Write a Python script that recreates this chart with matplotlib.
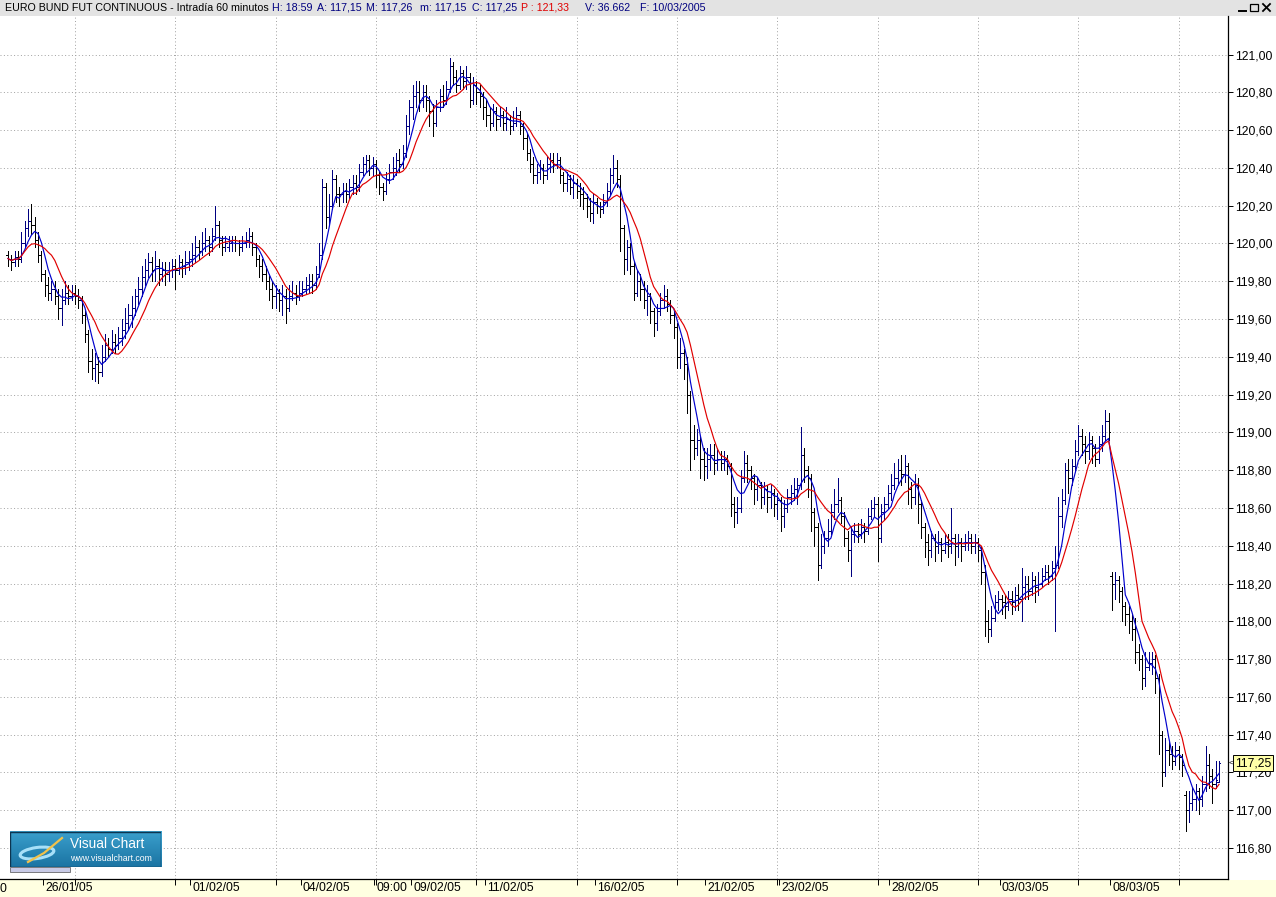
import numpy as np
import pandas as pd
import matplotlib
matplotlib.use("Agg")
import matplotlib.pyplot as plt
from matplotlib.patches import Rectangle, Ellipse
from matplotlib.lines import Line2D

# hourly OHLC, 11 bars per session (25/01/05 .. 10/03/05)
opens = [
    119.94, 119.92, 119.90, 119.93, 119.92, 120.00, 120.08, 120.12, 120.10, 120.02, 119.94,
    119.84, 119.78, 119.74, 119.76, 119.72, 119.66, 119.70, 119.74, 119.72, 119.74, 119.72,
    119.70, 119.62, 119.52, 119.38, 119.34, 119.36, 119.32, 119.40, 119.46, 119.44, 119.48,
    119.46, 119.50, 119.54, 119.58, 119.62, 119.66, 119.72, 119.76, 119.82, 119.86, 119.90,
    119.86, 119.88, 119.84, 119.86, 119.84, 119.86, 119.88, 119.86, 119.90, 119.88, 119.90,
    119.92, 119.94, 119.98, 119.96, 120.00, 120.02, 119.98, 120.04, 120.10, 120.02, 119.98,
    119.98, 120.00, 120.02, 120.00, 119.98, 120.00, 120.02, 120.04, 119.98, 119.92, 119.88,
    119.84, 119.80, 119.76, 119.72, 119.74, 119.70, 119.72, 119.66, 119.72, 119.74, 119.72,
    119.74, 119.76, 119.78, 119.80, 119.78, 119.84, 119.94, 120.30, 120.14, 120.20, 120.34,
    120.26, 120.26, 120.28, 120.26, 120.30, 120.32, 120.30, 120.38, 120.42, 120.44, 120.40,
    120.42, 120.36, 120.30, 120.28, 120.34, 120.38, 120.40, 120.44, 120.42, 120.48, 120.62,
    120.72, 120.78, 120.80, 120.76, 120.80, 120.76, 120.70, 120.64, 120.72, 120.78, 120.76,
    120.82, 120.94, 120.88, 120.84, 120.90, 120.86, 120.88, 120.76, 120.84, 120.80, 120.78,
    120.72, 120.68, 120.64, 120.70, 120.66, 120.68, 120.64, 120.66, 120.62, 120.64, 120.68,
    120.62, 120.56, 120.48, 120.42, 120.36, 120.38, 120.40, 120.36, 120.42, 120.44, 120.42,
    120.44, 120.36, 120.32, 120.34, 120.30, 120.32, 120.28, 120.26, 120.24, 120.20, 120.16,
    120.22, 120.20, 120.18, 120.22, 120.28, 120.36, 120.40, 120.34, 120.08, 119.92, 119.98,
    119.88, 119.74, 119.80, 119.76, 119.70, 119.72, 119.64, 119.58, 119.64, 119.70, 119.72,
    119.68, 119.62, 119.56, 119.40, 119.42, 119.36, 119.20, 118.96, 118.92, 118.96, 118.86,
    118.82, 118.86, 118.88, 118.84, 118.86, 118.84, 118.86, 118.82, 118.62, 118.58, 118.60,
    118.76, 118.84, 118.80, 118.76, 118.70, 118.72, 118.66, 118.70, 118.66, 118.68, 118.62,
    118.64, 118.56, 118.60, 118.66, 118.68, 118.70, 118.72, 118.88, 118.80, 118.76, 118.58,
    118.50, 118.30, 118.40, 118.44, 118.48, 118.58, 118.62, 118.64, 118.56, 118.44, 118.38,
    118.46, 118.48, 118.46, 118.50, 118.48, 118.56, 118.60, 118.62, 118.44, 118.58, 118.62,
    118.68, 118.72, 118.76, 118.80, 118.78, 118.82, 118.70, 118.66, 118.72, 118.62, 118.50,
    118.42, 118.38, 118.44, 118.40, 118.42, 118.38, 118.42, 118.40, 118.44, 118.40, 118.42,
    118.40, 118.42, 118.44, 118.40, 118.42, 118.38, 118.26, 118.00, 117.96, 118.02, 118.10,
    118.12, 118.10, 118.08, 118.12, 118.10, 118.14, 118.12, 118.18, 118.20, 118.16, 118.22,
    118.18, 118.20, 118.24, 118.26, 118.24, 118.28, 118.30, 118.56, 118.64, 118.80, 118.76,
    118.82, 118.90, 118.98, 118.94, 118.90, 118.96, 118.92, 118.86, 118.94, 118.98, 119.06,
    118.24, 118.20, 118.22, 118.16, 118.08, 118.04, 118.00, 117.96, 117.84, 117.80, 117.70,
    117.76, 117.78, 117.80, 117.70, 117.40, 117.20, 117.32, 117.30, 117.26, 117.32, 117.28,
    117.08, 117.00, 117.04, 117.06, 117.10, 117.06, 117.14, 117.24, 117.18, 117.14, 117.15,
]
highs = [
    119.96, 119.94, 119.96, 119.96, 120.06, 120.12, 120.18, 120.21, 120.14, 120.06, 119.96,
    119.86, 119.82, 119.80, 119.80, 119.76, 119.76, 119.80, 119.78, 119.78, 119.78, 119.76,
    119.72, 119.64, 119.54, 119.44, 119.42, 119.40, 119.46, 119.52, 119.50, 119.54, 119.52,
    119.56, 119.60, 119.66, 119.68, 119.72, 119.76, 119.82, 119.88, 119.92, 119.95, 119.93,
    119.96, 119.92, 119.90, 119.90, 119.90, 119.92, 119.92, 119.94, 119.92, 119.96, 119.96,
    120.00, 120.04, 120.02, 120.06, 120.08, 120.04, 120.08, 120.20, 120.12, 120.04, 120.04,
    120.04, 120.04, 120.04, 120.02, 120.04, 120.06, 120.08, 120.06, 120.00, 119.94, 119.92,
    119.88, 119.84, 119.80, 119.78, 119.76, 119.78, 119.76, 119.78, 119.80, 119.78, 119.80,
    119.80, 119.82, 119.84, 119.84, 119.88, 120.00, 120.34, 120.32, 120.26, 120.39, 120.36,
    120.30, 120.32, 120.32, 120.34, 120.36, 120.36, 120.42, 120.46, 120.47, 120.47, 120.46,
    120.44, 120.38, 120.32, 120.38, 120.42, 120.46, 120.48, 120.50, 120.52, 120.68, 120.76,
    120.84, 120.86, 120.86, 120.84, 120.84, 120.78, 120.74, 120.76, 120.82, 120.84, 120.86,
    120.98, 120.96, 120.92, 120.94, 120.92, 120.94, 120.90, 120.88, 120.86, 120.84, 120.80,
    120.76, 120.72, 120.74, 120.72, 120.72, 120.70, 120.72, 120.68, 120.70, 120.72, 120.70,
    120.64, 120.58, 120.50, 120.46, 120.42, 120.44, 120.42, 120.46, 120.48, 120.48, 120.48,
    120.46, 120.38, 120.38, 120.36, 120.36, 120.34, 120.32, 120.30, 120.26, 120.24, 120.26,
    120.24, 120.22, 120.26, 120.32, 120.40, 120.47, 120.44, 120.36, 120.10, 120.02, 120.00,
    119.90, 119.86, 119.84, 119.80, 119.78, 119.74, 119.66, 119.68, 119.74, 119.78, 119.76,
    119.70, 119.64, 119.58, 119.50, 119.44, 119.40, 119.22, 119.04, 119.02, 118.98, 118.92,
    118.92, 118.94, 118.94, 118.92, 118.90, 118.90, 118.88, 118.84, 118.66, 118.66, 118.80,
    118.90, 118.88, 118.82, 118.78, 118.76, 118.74, 118.74, 118.72, 118.72, 118.70, 118.68,
    118.66, 118.64, 118.70, 118.72, 118.76, 118.76, 119.03, 118.92, 118.82, 118.78, 118.60,
    118.52, 118.46, 118.48, 118.54, 118.62, 118.70, 118.76, 118.66, 118.58, 118.48, 118.50,
    118.52, 118.52, 118.54, 118.52, 118.60, 118.64, 118.66, 118.66, 118.62, 118.66, 118.72,
    118.78, 118.84, 118.86, 118.88, 118.88, 118.84, 118.74, 118.78, 118.76, 118.64, 118.52,
    118.46, 118.48, 118.46, 118.48, 118.44, 118.46, 118.46, 118.60, 118.46, 118.46, 118.44,
    118.46, 118.48, 118.46, 118.46, 118.44, 118.40, 118.30, 118.06, 118.08, 118.14, 118.16,
    118.14, 118.14, 118.16, 118.16, 118.18, 118.20, 118.28, 118.24, 118.24, 118.26, 118.24,
    118.26, 118.28, 118.30, 118.30, 118.32, 118.40, 118.66, 118.70, 118.84, 118.86, 118.86,
    118.96, 119.04, 119.02, 118.98, 119.00, 118.98, 118.94, 118.98, 119.04, 119.12, 119.10,
    118.26, 118.26, 118.24, 118.18, 118.10, 118.08, 118.04, 118.02, 117.88, 117.82, 117.84,
    117.84, 117.84, 117.82, 117.72, 117.42, 117.38, 117.36, 117.34, 117.36, 117.34, 117.30,
    117.10, 117.10, 117.12, 117.14, 117.12, 117.18, 117.34, 117.30, 117.22, 117.26, 117.26,
]
lows = [
    119.88, 119.86, 119.88, 119.88, 119.90, 119.98, 120.04, 120.05, 119.98, 119.90, 119.80,
    119.72, 119.70, 119.70, 119.68, 119.60, 119.57, 119.68, 119.68, 119.70, 119.68, 119.66,
    119.58, 119.48, 119.32, 119.28, 119.27, 119.26, 119.30, 119.38, 119.40, 119.42, 119.42,
    119.44, 119.46, 119.50, 119.54, 119.56, 119.62, 119.68, 119.72, 119.78, 119.82, 119.80,
    119.80, 119.78, 119.80, 119.78, 119.80, 119.82, 119.76, 119.84, 119.82, 119.84, 119.86,
    119.88, 119.90, 119.92, 119.94, 119.96, 119.94, 119.96, 120.02, 119.98, 119.94, 119.96,
    119.96, 119.96, 119.96, 119.94, 119.96, 119.98, 119.98, 119.94, 119.88, 119.82, 119.80,
    119.76, 119.70, 119.66, 119.66, 119.64, 119.62, 119.58, 119.64, 119.70, 119.68, 119.70,
    119.72, 119.74, 119.74, 119.74, 119.76, 119.82, 119.92, 120.08, 120.10, 120.18, 120.22,
    120.20, 120.22, 120.22, 120.24, 120.26, 120.26, 120.28, 120.36, 120.38, 120.36, 120.36,
    120.30, 120.26, 120.23, 120.26, 120.32, 120.34, 120.36, 120.38, 120.40, 120.46, 120.58,
    120.66, 120.72, 120.70, 120.72, 120.70, 120.62, 120.57, 120.62, 120.70, 120.72, 120.74,
    120.80, 120.84, 120.80, 120.82, 120.82, 120.82, 120.72, 120.74, 120.74, 120.72, 120.66,
    120.62, 120.60, 120.62, 120.60, 120.62, 120.60, 120.60, 120.58, 120.60, 120.62, 120.58,
    120.50, 120.44, 120.38, 120.32, 120.32, 120.34, 120.32, 120.34, 120.38, 120.38, 120.40,
    120.32, 120.28, 120.28, 120.26, 120.24, 120.24, 120.20, 120.18, 120.14, 120.12, 120.11,
    120.16, 120.14, 120.16, 120.20, 120.26, 120.32, 120.30, 119.96, 119.84, 119.86, 119.84,
    119.70, 119.72, 119.70, 119.66, 119.62, 119.58, 119.51, 119.54, 119.62, 119.66, 119.64,
    119.58, 119.50, 119.34, 119.34, 119.28, 119.10, 118.80, 118.86, 118.88, 118.76, 118.75,
    118.76, 118.80, 118.78, 118.80, 118.80, 118.80, 118.78, 118.56, 118.50, 118.52, 118.58,
    118.74, 118.74, 118.70, 118.62, 118.64, 118.60, 118.62, 118.58, 118.60, 118.56, 118.54,
    118.48, 118.50, 118.58, 118.62, 118.64, 118.62, 118.70, 118.74, 118.66, 118.48, 118.40,
    118.22, 118.28, 118.36, 118.40, 118.46, 118.54, 118.58, 118.52, 118.40, 118.32, 118.24,
    118.42, 118.42, 118.44, 118.42, 118.46, 118.54, 118.56, 118.32, 118.42, 118.54, 118.60,
    118.64, 118.70, 118.72, 118.72, 118.74, 118.62, 118.60, 118.62, 118.52, 118.44, 118.34,
    118.30, 118.34, 118.32, 118.36, 118.32, 118.36, 118.34, 118.36, 118.30, 118.34, 118.32,
    118.38, 118.38, 118.36, 118.36, 118.32, 118.20, 117.92, 117.89, 117.92, 118.00, 118.06,
    118.04, 118.02, 118.06, 118.04, 118.06, 118.06, 118.00, 118.12, 118.12, 118.14, 118.10,
    118.14, 118.18, 118.22, 118.20, 118.22, 117.95, 118.28, 118.50, 118.62, 118.68, 118.72,
    118.80, 118.88, 118.88, 118.84, 118.86, 118.84, 118.82, 118.84, 118.90, 118.96, 118.96,
    118.06, 118.12, 118.10, 118.00, 117.98, 117.94, 117.90, 117.78, 117.74, 117.64, 117.66,
    117.74, 117.72, 117.62, 117.30, 117.13, 117.18, 117.24, 117.22, 117.24, 117.22, 117.18,
    116.89, 116.94, 117.00, 117.00, 116.98, 117.02, 117.10, 117.12, 117.04, 117.12, 117.15,
]
closes = [
    119.92, 119.90, 119.93, 119.92, 120.00, 120.08, 120.12, 120.10, 120.02, 119.94, 119.84,
    119.78, 119.74, 119.76, 119.72, 119.66, 119.70, 119.74, 119.72, 119.74, 119.72, 119.70,
    119.62, 119.52, 119.38, 119.34, 119.36, 119.32, 119.40, 119.46, 119.44, 119.48, 119.46,
    119.50, 119.54, 119.58, 119.62, 119.66, 119.72, 119.76, 119.82, 119.86, 119.90, 119.86,
    119.88, 119.84, 119.86, 119.84, 119.86, 119.88, 119.86, 119.90, 119.88, 119.90, 119.92,
    119.94, 119.98, 119.96, 120.00, 120.02, 119.98, 120.04, 120.10, 120.02, 119.98, 120.00,
    120.00, 120.02, 120.00, 119.98, 120.00, 120.02, 120.04, 119.98, 119.92, 119.88, 119.84,
    119.80, 119.76, 119.72, 119.74, 119.70, 119.72, 119.66, 119.72, 119.74, 119.72, 119.74,
    119.76, 119.78, 119.80, 119.78, 119.84, 119.94, 120.30, 120.14, 120.20, 120.34, 120.26,
    120.26, 120.28, 120.26, 120.30, 120.32, 120.30, 120.38, 120.42, 120.44, 120.40, 120.42,
    120.36, 120.30, 120.28, 120.34, 120.38, 120.40, 120.44, 120.42, 120.48, 120.62, 120.72,
    120.78, 120.80, 120.76, 120.80, 120.76, 120.70, 120.64, 120.72, 120.78, 120.76, 120.82,
    120.94, 120.88, 120.84, 120.90, 120.86, 120.88, 120.76, 120.84, 120.80, 120.78, 120.72,
    120.68, 120.64, 120.70, 120.66, 120.68, 120.64, 120.66, 120.62, 120.64, 120.68, 120.62,
    120.56, 120.48, 120.42, 120.36, 120.38, 120.40, 120.36, 120.42, 120.44, 120.42, 120.44,
    120.36, 120.32, 120.34, 120.30, 120.32, 120.28, 120.26, 120.24, 120.20, 120.16, 120.22,
    120.20, 120.18, 120.22, 120.28, 120.36, 120.40, 120.34, 120.08, 119.92, 119.98, 119.88,
    119.74, 119.80, 119.76, 119.70, 119.72, 119.64, 119.58, 119.64, 119.70, 119.72, 119.68,
    119.62, 119.56, 119.40, 119.42, 119.36, 119.20, 118.96, 118.92, 118.96, 118.86, 118.82,
    118.86, 118.88, 118.84, 118.86, 118.84, 118.86, 118.82, 118.62, 118.58, 118.60, 118.76,
    118.84, 118.80, 118.76, 118.70, 118.72, 118.66, 118.70, 118.66, 118.68, 118.62, 118.64,
    118.56, 118.60, 118.66, 118.68, 118.70, 118.72, 118.88, 118.80, 118.76, 118.58, 118.50,
    118.30, 118.40, 118.44, 118.48, 118.58, 118.62, 118.64, 118.56, 118.44, 118.38, 118.46,
    118.48, 118.46, 118.50, 118.48, 118.56, 118.60, 118.62, 118.44, 118.58, 118.62, 118.68,
    118.72, 118.76, 118.80, 118.78, 118.82, 118.70, 118.66, 118.72, 118.62, 118.50, 118.42,
    118.38, 118.44, 118.40, 118.42, 118.38, 118.42, 118.40, 118.44, 118.40, 118.42, 118.40,
    118.42, 118.44, 118.40, 118.42, 118.38, 118.26, 118.00, 117.96, 118.02, 118.10, 118.12,
    118.10, 118.08, 118.12, 118.10, 118.14, 118.12, 118.18, 118.20, 118.16, 118.22, 118.18,
    118.20, 118.24, 118.26, 118.24, 118.28, 118.30, 118.56, 118.64, 118.80, 118.76, 118.82,
    118.90, 118.98, 118.94, 118.90, 118.96, 118.92, 118.86, 118.94, 118.98, 119.06, 119.00,
    118.20, 118.22, 118.16, 118.08, 118.04, 118.00, 117.96, 117.84, 117.80, 117.70, 117.76,
    117.78, 117.80, 117.70, 117.40, 117.20, 117.32, 117.30, 117.26, 117.32, 117.28, 117.24,
    117.00, 117.04, 117.06, 117.10, 117.06, 117.14, 117.24, 117.18, 117.14, 117.16, 117.25,
]

date_labels = ["26/01/05", "01/02/05", "04/02/05", "09:00", "09/02/05", "11/02/05",
               "16/02/05", "21/02/05", "23/02/05", "28/02/05", "03/03/05", "08/03/05"]
date_bars = [11, 55, 88, 110, 121, 143, 176, 209, 231, 264, 297, 330]
grid_bars = [20, 50, 80, 110, 140, 170, 200, 230, 260, 290, 320, 350]
price_ticks = [116.8, 117.0, 117.2, 117.4, 117.6, 117.8, 118.0, 118.2, 118.4, 118.6,
               118.8, 119.0, 119.2, 119.4, 119.6, 119.8, 120.0, 120.2, 120.4, 120.6,
               120.8, 121.0]
last_price = 117.25

W, H = 1276, 897
plt.rcParams['font.family'] = ['Liberation Sans', 'DejaVu Sans']
fig = plt.figure(figsize=(W / 100, H / 100), dpi=100)


def fx(px):
    return px / W


def fy(py):
    return 1 - py / H


ax = fig.add_axes([0, fy(879), fx(1228), (879 - 16) / H])

x = np.arange(len(closes))
o = np.array(opens)
c = np.array(closes)
cols = np.where(c > o, '#000080', '#000000')

# OHLC bars: high-low stem, open tick left, close tick right
ax.vlines(x, lows, highs, colors=cols, lw=0.72, antialiased=False, zorder=3)
ax.hlines(o, x - 0.45, x, colors=cols, lw=0.72, antialiased=False, zorder=3)
ax.hlines(c, x, x + 0.45, colors=cols, lw=0.72, antialiased=False, zorder=3)

s = pd.Series(closes)
ax.plot(x, s.rolling(5, min_periods=1).mean(), color='#0000cc', lw=0.85, zorder=4)
ax.plot(x, s.rolling(10, min_periods=1).mean(), color='#e00000', lw=0.85, zorder=5)

ax.set_xlim(-2.39, 364.7)
ax.set_ylim(116.636, 121.204)

ax.yaxis.tick_right()
ax.set_yticks(price_ticks)
ax.set_yticklabels([f"{v:.2f}".replace('.', ',') for v in price_ticks])
ax.tick_params(axis='y', direction='out', length=3.5, width=0.7, pad=1.5,
               labelsize=8.7, colors='black')
ax.set_xticks(grid_bars)
ax.set_xticklabels([])
ax.set_xticks([b - 0.5 for b in date_bars], minor=True)
ax.tick_params(axis='x', which='both', direction='out', length=4, width=0.7)
ax.grid(True, which='major', color='#a0a0a0', linestyle=(0, (1, 2.5)), lw=0.7)
ax.set_axisbelow(True)
for side in ('left', 'top'):
    ax.spines[side].set_visible(False)
for side in ('right', 'bottom'):
    ax.spines[side].set_linewidth(0.9)

for lab, b in zip(date_labels, date_bars):
    ax.annotate(lab, xy=(b - 0.5, 0), xycoords=('data', 'axes fraction'),
                xytext=(2, -3), textcoords='offset pixels', ha='left', va='top',
                fontsize=8.8, annotation_clip=False)
fig.text(fx(0), fy(889), "0", ha='left', va='center', fontsize=8.8)

# last price flag
ax.annotate("117,25", xy=(1, last_price), xycoords=('axes fraction', 'data'),
            xytext=(7, 0), textcoords='offset pixels', ha='left', va='center',
            fontsize=8.7, zorder=10, annotation_clip=False,
            bbox=dict(boxstyle='square,pad=0.15', fc='#ffffa8', ec='black', lw=0.7))
ax.annotate("<", xy=(1, last_price), xycoords=('axes fraction', 'data'),
            xytext=(1, 0), textcoords='offset pixels', ha='left', va='center',
            fontsize=6, annotation_clip=False)

# title bar and bottom band
fig.add_artist(Rectangle((0, fy(16)), 1, 16 / H, transform=fig.transFigure,
                         fc='#e3e3e3', ec='none', zorder=-1))
fig.add_artist(Rectangle((0, 0), 1, 17 / H, transform=fig.transFigure,
                         fc='#ffffe1', ec='none', zorder=-1))

tsize = 7.7
fig.text(fx(5), fy(8), "EURO BUND FUT CONTINUOUS - Intradía 60 minutos",
         fontsize=tsize, va='center', color='black')
for txt, px, col in [("H: 18:59", 272, '#000080'), ("A: 117,15", 317, '#000080'),
                     ("M: 117,26", 366, '#000080'), ("m: 117,15", 420, '#000080'),
                     ("C: 117,25", 472, '#000080'), ("P : 121,33", 521, '#e00000'),
                     ("V: 36.662", 585, '#000080'), ("F: 10/03/2005", 640, '#000080')]:
    fig.text(fx(px), fy(8), txt, fontsize=tsize, va='center', color=col)

# window buttons
fig.add_artist(Line2D([fx(1239), fx(1246)], [fy(11), fy(11)], transform=fig.transFigure,
                      color='black', lw=1.4))
fig.add_artist(Rectangle((fx(1250), fy(11)), 8 / W, 7 / H, transform=fig.transFigure,
                         fc='none', ec='black', lw=0.9))
fig.add_artist(Line2D([fx(1263), fx(1270)], [fy(4), fy(11)], transform=fig.transFigure,
                      color='black', lw=1.3))
fig.add_artist(Line2D([fx(1263), fx(1270)], [fy(11), fy(4)], transform=fig.transFigure,
                      color='black', lw=1.3))

# Visual Chart logo
lax = fig.add_axes([fx(10), fy(867), 151 / W, 36 / H], zorder=10)
grad = np.linspace(0, 1, 36).reshape(-1, 1)
lax.imshow(grad, extent=[0, 151, 36, 0], aspect='auto',
           cmap=matplotlib.colors.LinearSegmentedColormap.from_list('vc', ['#3a9fcc', '#1b74a3']))
lax.set_xlim(0, 151)
lax.set_ylim(36, 0)
lax.axis('off')
lax.add_patch(Rectangle((0.5, 0.5), 150, 35, fc='none', ec='#0d3550', lw=1))
lax.add_patch(Ellipse((27, 22), 34, 11, angle=-8, fill=False, ec='#a8e0f8', lw=2.2))
lax.plot([18, 34, 52], [31, 22, 7], color='#f2c24a', lw=1.6)
lax.text(60, 13, "Visual Chart", color='white', fontsize=9.8, va='center')
lax.text(60, 27, "www.visualchart.com", color='white', fontsize=6.3, va='center')
fig.add_artist(Rectangle((fx(10), fy(872)), 60 / W, 5 / H, transform=fig.transFigure,
                         fc='#c8cae6', ec='#505050', lw=0.5, zorder=10))

fig.savefig("out.png", dpi=100)
